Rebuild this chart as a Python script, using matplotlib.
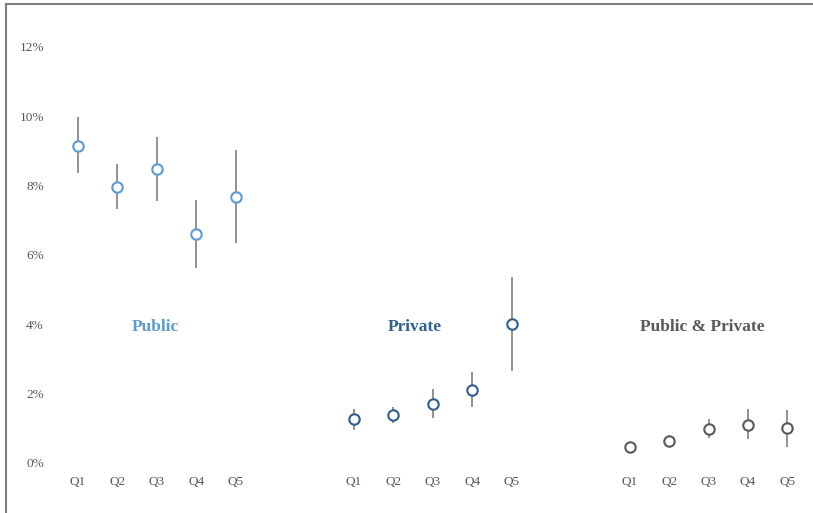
import matplotlib.pyplot as plt
from matplotlib.lines import Line2D

# Share (%) by quintile with low/high bounds
quintiles = ['Q1', 'Q2', 'Q3', 'Q4', 'Q5']

public = [9.14, 7.96, 8.48, 6.61, 7.67]
public_lo = [8.36, 7.33, 7.56, 5.62, 6.35]
public_hi = [9.98, 8.62, 9.40, 7.59, 9.03]

private = [1.27, 1.38, 1.70, 2.11, 4.01]
private_lo = [0.95, 1.15, 1.30, 1.62, 2.65]
private_hi = [1.56, 1.62, 2.13, 2.62, 5.36]

both = [0.46, 0.63, 0.98, 1.10, 1.01]
both_lo = [0.42, 0.52, 0.72, 0.69, 0.46]
both_hi = [0.50, 0.76, 1.27, 1.56, 1.53]

groups = [
    ('Public', public, public_lo, public_hi, '#5b9bd5'),
    ('Private', private, private_lo, private_hi, '#2f5f8f'),
    ('Public & Private', both, both_lo, both_hi, '#595959'),
]
# horizontal position of each group title, relative to its Q1
title_offset = [1.95, 1.55, 1.84]

plt.rcParams['font.family'] = ['Liberation Serif', 'DejaVu Serif']

fig = plt.figure(figsize=(8.13, 5.13), dpi=100)
W, H = 813, 513
ax = fig.add_axes([55 / W, (H - 470) / H, (813 - 55) / W, (470 - 15) / H])

xticks = []
for g, (name, vals, lo, hi, col) in enumerate(groups):
    xs = [g * 7 + i for i in range(len(vals))]
    xticks += xs
    ax.vlines(xs, lo, hi, color='#7f7f7f', lw=1.2, zorder=1)
    ax.plot(xs, vals, 'o', ms=7.5, mfc='white', mec=col, mew=1.5, zorder=2)
    ax.text(g * 7 + title_offset[g], 3.92, name, ha='center', va='center',
            color=col, fontsize=12.5, fontweight='bold')

ax.set_xlim(-0.584, 18.65)
ax.set_ylim(-0.202, 12.92)
ax.set_xticks(xticks)
ax.set_xticklabels(quintiles * 3)
ax.set_yticks(range(0, 13, 2))
ax.set_yticklabels([f'{v}%' for v in range(0, 13, 2)])
ax.tick_params(length=0, labelsize=9.5, labelcolor='#5a5550')
ax.tick_params(axis='y', pad=8)
ax.tick_params(axis='x', pad=4)
for s in ax.spines.values():
    s.set_visible(False)

# outer frame: left and top edges
fig.add_artist(Line2D([5.5 / W, 5.5 / W], [0, 1 - 4 / H], color='#7f7f7f', lw=1.5))
fig.add_artist(Line2D([5.5 / W, 1], [1 - 4 / H, 1 - 4 / H], color='#7f7f7f', lw=1.5))

fig.savefig('out.png', dpi=100)
